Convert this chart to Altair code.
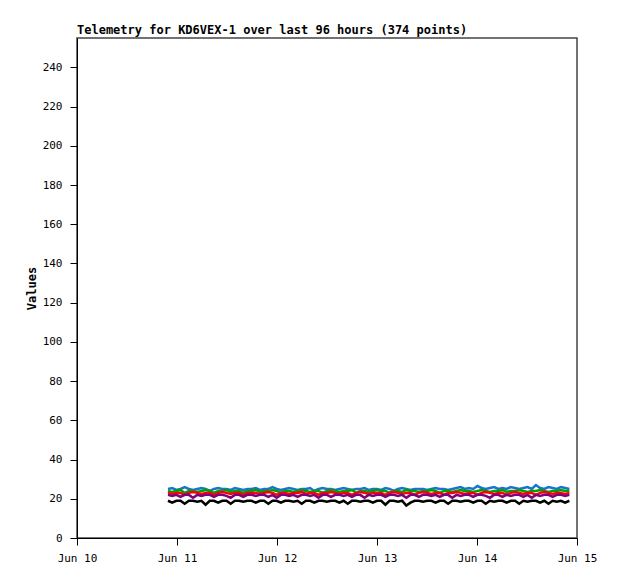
import altair as alt
import pandas as pd

series_names = ["Blue", "Green", "Red", "Purple", "Black"]
series_colors = ["#1874cd", "#00a000", "#ff0000", "#800080", "#000000"]

blue = [25,25.5,24.5,25,26,25,24.5,25,25.5,25,24,25,25.5,25,25,24.5,25.5,25,24.5,25,
        25,25.5,24.5,25,25,26,25,24.5,25,25.5,25,24.5,25,25,25.5,24,25,25.5,25,25,
        24.5,25,25.5,25,24.5,25,25,25.5,24.5,25,25,24.5,25.5,25,24,25,25.5,25,24.5,25,
        25,25,24.5,25,25.5,25,25,24.5,25,25.5,26,25,25.5,25,26.5,25.5,25,25.5,26,25,
        25.5,25,26,25.5,25,25.5,26,25,27,25.5,25,26,25.5,25,26,25.5,25]
green = [24,23.5,24,24.5,23,24,24,23.5,24,24.5,24,23,24,24,24.5,23.5,24,24,23,24,
         24,24.5,23.5,24,24,24.5,24,23,24,24,23.5,24,24.5,24,23.5,24,24,23,24,24.5,
         24,23.5,24,24,24.5,23,24,24,23.5,24,24.5,24,24,23,24,24,23.5,24.5,24,24,
         23.5,24,24,24.5,24,23,24,24,23.5,24,24.5,24,24,23.5,24,24.5,24,23.5,24,24,
         24.5,23.5,24,24,24.5,24,23.5,24,24,24.5,24,23.5,24,24,24.5,24,24]
red = [23,22.5,23,23,22,23,23.5,23,22.5,23,23,22,23,23.5,23,22.5,23,23,22,23,
       23,23,22.5,23,23.5,23,22,23,23,22.5,23,23,23.5,22.5,23,23,22,23,23,23.5,
       23,22.5,23,23,22,23,23.5,23,22.5,23,23,23,22,23,23.5,23,22.5,23,23,22,
       23,23.5,23,22.5,23,23,22,23,23,23.5,23,22.5,23,23,22,23,23.5,23,22.5,23,
       23,22,23,23.5,23,22.5,23,23,22,23,23.5,23,22.5,23,23,22.5,23]
purple = [22,21.5,22,21,22,22,20.5,22,21.5,22,22,21,22,22,21.5,20.5,22,22,21,22,
          22,21.5,22,22,21,22,20.5,22,22,21.5,22,21,22,22,21.5,22,20.5,22,22,21,
          22,22,21.5,22,21,22,22,20.5,22,21.5,22,22,21,22,22,21.5,22,20.5,22,22,
          21,22,22,21.5,22,21,22,22,20.5,22,21.5,22,22,21,22,22,21.5,20.5,22,22,
          21,22,21.5,22,22,21,22,20.5,22,21.5,22,22,21,22,22,21.5,22]
black = [19,18,19,19,17.5,19,19,18.5,19,17,19,19,18,19,19,17.5,19,19,18.5,19,
         19,18,19,19,17.5,19,19,18,19,19,18.5,19,17.5,19,19,18,19,19,18.5,19,
         19,18,19,17.5,19,19,18.5,19,19,18,19,19,17,19,19,18.5,19,16.5,18,19,
         19,18.5,19,19,18,19,19,17.5,19,19,18.5,19,19,18,19,19,17.5,19,18.5,19,
         19,18,19,19,17.5,19,18.5,19,19,18,19,17.5,19,18.5,19,18,19]

times = pd.date_range("2024-06-10T21:50:00", "2024-06-14T22:10:00", periods=len(blue))
time_strs = [t.strftime("%Y-%m-%dT%H:%M:%S") for t in times]

rows = []
for name, vals in zip(series_names, [blue, green, red, purple, black]):
    for t, v in zip(time_strs, vals):
        rows.append({"time": t, "value": v, "series": name})
df = pd.DataFrame(rows)

font = "DejaVu Sans Mono"
day_ticks = [alt.DateTime(year=2024, month=6, date=d) for d in range(10, 16)]

chart = alt.Chart(df).mark_line(strokeWidth=2.5).encode(
    x=alt.X("time:T",
            scale=alt.Scale(domain=[day_ticks[0], day_ticks[-1]], nice=False),
            axis=alt.Axis(values=day_ticks, format="%b %d", title=None, grid=False,
                          domainColor="black", tickColor="black", tickSize=7,
                          labelFont=font, labelFontSize=11, labelColor="black",
                          labelAlign="center", labelFlush=False, labelPadding=7)),
    y=alt.Y("value:Q",
            scale=alt.Scale(domain=[0, 255], nice=False, zero=True),
            axis=alt.Axis(values=list(range(0, 241, 20)), title="Values", grid=False,
                          domainColor="black", tickColor="black", tickSize=7,
                          labelFont=font, labelFontSize=11, labelColor="black",
                          labelPadding=8,
                          titleFont=font, titleFontSize=12, titleFontWeight="bold",
                          titleColor="black", titlePadding=4)),
    color=alt.Color("series:N", scale=alt.Scale(domain=series_names, range=series_colors),
                    legend=None),
    detail="series:N",
).properties(
    width=500, height=500,
    title=alt.TitleParams("Telemetry for KD6VEX-1 over last 96 hours (374 points)",
                          anchor="start", frame="group", font=font, fontSize=12,
                          fontWeight="bold", color="black", offset=1),
    autosize=alt.AutoSizeParams(type="none"),
    padding={"left": 69, "top": 30, "right": 25, "bottom": 25},
).configure_view(stroke="#444444", strokeWidth=1.5)

chart.save("out.html", embed_options={"renderer": "svg", "actions": False})
